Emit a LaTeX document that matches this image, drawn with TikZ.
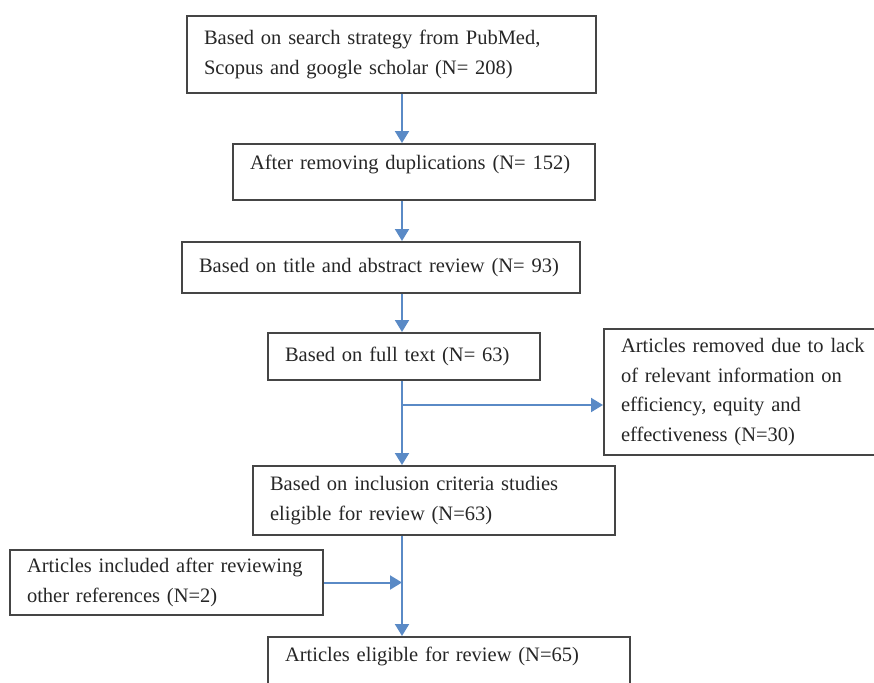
\documentclass[tikz,border=0pt]{standalone}
\usepackage{fontspec}
\setmainfont{Liberation Serif}
\usetikzlibrary{arrows.meta}
\definecolor{arrowblue}{HTML}{5A8AC6}
\definecolor{boxgray}{HTML}{454545}
\definecolor{txt}{HTML}{262626}
\begin{document}
\begin{tikzpicture}[x=1pt,y=-1pt,
  box/.style={draw=boxgray,line width=2pt,rectangle,inner xsep=17pt,inner ysep=0pt,
    align=left,text=txt,font=\fontsize{20.5}{29.5}\selectfont},
  arr/.style={draw=arrowblue,line width=2pt,-{Triangle[length=12pt,width=14pt]}},
  ln/.style={draw=arrowblue,line width=2pt}]
\useasboundingbox (0,0) rectangle (874,682);
\clip (0,0) rectangle (874,682);
\coordinate (spine) at (402,0);
\node[box,text width=375pt,minimum height=77pt] (b1) at (391.5,54.5)
  {Based on search strategy from PubMed,\\Scopus and google scholar (N= 208)};
\node[box,text width=328pt,minimum height=56pt,text depth=19pt] (b2) at (414,172)
  {After removing duplications (N= 152)};
\node[box,text width=364pt,minimum height=51pt] (b3) at (381,267.5)
  {Based on title and abstract review (N= 93)};
\node[box,text width=238pt,minimum height=47pt] (b4) at (404,356.5)
  {Based on full text (N= 63)};
\node[box,text width=265pt,minimum height=126pt] (b5) at (753.5,392)
  {Articles removed due to lack\\of relevant information on\\efficiency, equity and\\effectiveness (N=30)};
\node[box,text width=328pt,minimum height=69pt] (b6) at (434,500.5)
  {Based on inclusion criteria studies\\eligible for review (N=63)};
\node[box,text width=279pt,minimum height=65pt] (b7) at (166.5,582.5)
  {Articles included after reviewing\\other references (N=2)};
\node[box,text width=328pt,minimum height=63pt,text depth=28pt] (b8) at (449,668.5)
  {Articles eligible for review (N=65)};
\coordinate (j1) at (402,405);
\draw[arr] (b1.south -| spine) -- (b2.north -| spine);
\draw[arr] (b2.south -| spine) -- (b3.north -| spine);
\draw[arr] (b3.south -| spine) -- (b4.north -| spine);
\draw[arr] (b4.south -| spine) -- (b6.north -| spine);
\draw[arr] (j1) -- (j1 -| b5.west);
\draw[arr] (b6.south -| spine) -- (b8.north -| spine);
\draw[arr] (b7.east) -- (b7.east -| spine);
\end{tikzpicture}
\end{document}
